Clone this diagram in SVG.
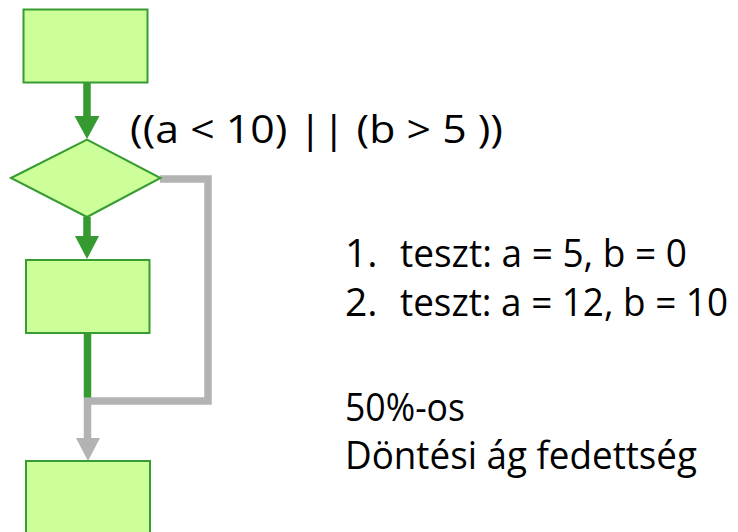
<svg xmlns="http://www.w3.org/2000/svg" width="738" height="532" viewBox="0 0 738 532">
  <style>
    .node { fill: #ccff99; stroke: #379c32; stroke-width: 2; }
    .flow { fill: none; stroke-width: 7.5; stroke-linejoin: miter; stroke-linecap: butt; }
    .taken { stroke: #359a30; }
    .skip { stroke: #b3b3b3; }
    .head-taken { fill: #359a30; }
    .head-skip { fill: #b3b3b3; }
    .txt { font-family: "Open Sans", Lato, sans-serif; font-size: 39px; fill: #000; }
  </style>

  <rect width="738" height="532" fill="#ffffff"/>

  <!-- connectors -->
  <g id="connectors">
    <!-- start box to decision -->
    <line class="flow taken" x1="87" y1="82" x2="87" y2="117"/>
    <polygon class="head-taken" points="74.5,116 99.5,116 87,139"/>
    <!-- decision true branch -->
    <line class="flow taken" x1="87" y1="217" x2="87" y2="237"/>
    <polygon class="head-taken" points="75,236 99,236 87,259"/>
    <!-- false branch around the process box -->
    <polyline class="flow skip" points="160,179 208,179 208,401 87.5,401 87.5,439"/>
    <polygon class="head-skip" points="76,438 100,438 88,461"/>
    <!-- process box down to the join -->
    <line class="flow taken" x1="87.5" y1="333" x2="87.5" y2="397.5"/>
  </g>

  <g id="start">
    <rect class="node" x="23.5" y="9.5" width="124" height="73"/>
  </g>

  <g id="decision">
    <polygon class="node" points="11,178 87,139.5 160.5,178 87,217"/>
  </g>

  <g id="process">
    <rect class="node" x="26" y="260" width="123.5" height="73"/>
  </g>

  <g id="end">
    <rect class="node" x="26" y="461" width="124" height="80"/>
  </g>

  <!-- condition label -->
  <text class="txt" x="130" y="143" textLength="373" lengthAdjust="spacingAndGlyphs">((a &lt; 10) || (b &gt; 5 ))</text>

  <!-- test cases and result -->
  <g id="notes">
    <text class="txt" x="345" y="267">1.</text>
    <text class="txt" x="400" y="267" textLength="287" lengthAdjust="spacingAndGlyphs">teszt: a = 5, b = 0</text>
    <text class="txt" x="345" y="316">2.</text>
    <text class="txt" x="400" y="316" textLength="328" lengthAdjust="spacingAndGlyphs">teszt: a = 12, b = 10</text>
    <text class="txt" x="345" y="421" textLength="120" lengthAdjust="spacingAndGlyphs">50%-os</text>
    <text class="txt" x="345" y="469" textLength="352" lengthAdjust="spacingAndGlyphs">Döntési ág fedettség</text>
  </g>
</svg>
